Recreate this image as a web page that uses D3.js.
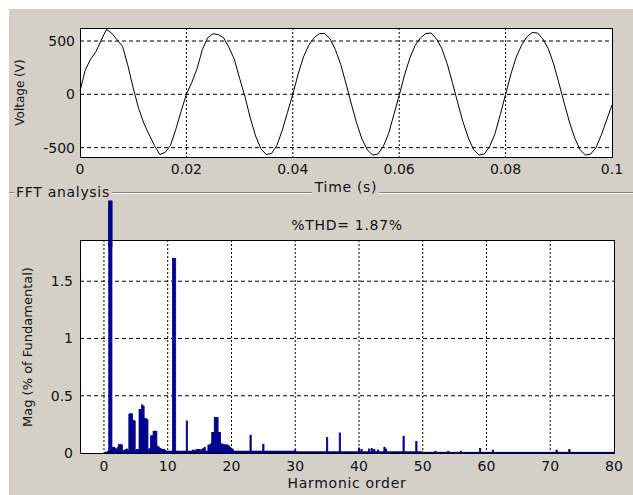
<!DOCTYPE html>
<html>
<head>
<meta charset="utf-8">
<script src="https://cdn.jsdelivr.net/npm/d3@7"></script>
<style>
  body { margin: 0; background: #fff; }
  text { font-family: "DejaVu Sans", sans-serif; fill: #111; }
  .lbl { letter-spacing: 0.7px; }
</style>
</head>
<body>
<div id="chart"></div>
<script>
// ---- top panel: voltage, one sample per ms from 0 to 0.1 s ----
const sampleStep = 0.001;
const voltage = [
  30, 230, 330, 400, 510, 610, 570, 510, 450, 270,
  60, -130, -270, -380, -480, -565, -545, -480, -330, -160,
  0, 110, 240, 420, 530, 568, 560, 530, 440, 330,
  150, -20, -220, -390, -510, -565, -555, -480, -340, -170,
  0, 190, 350, 460, 530, 570, 570, 520, 420, 280,
  100, -90, -270, -420, -520, -570, -560, -490, -370, -190,
  -10, 180, 340, 460, 530, 570, 575, 520, 430, 290,
  110, -80, -260, -410, -520, -570, -560, -490, -370, -190,
  0, 190, 350, 460, 540, 580, 575, 520, 430, 290,
  110, -80, -260, -410, -520, -570, -560, -500, -380, -240,
  -100
];
const timeTicks = [0, 0.02, 0.04, 0.06, 0.08, 0.1];
const voltTicks = [-500, 0, 500];

// ---- bottom panel: FFT, bins every 0.2 harmonic ----
const mainOrders = [1, 11];
const mainMags = [2.2, 1.70];
const binOrders = [
  0.6, 0.8, 1.2, 1.4, 1.6, 1.8, 2.0, 2.2, 2.4, 2.6, 2.8, 3.0, 3.2, 3.4, 3.6, 3.8,
  4.0, 4.2, 4.4, 4.6, 4.8, 5.0, 5.2, 5.4, 5.6, 5.8, 6.0, 6.2, 6.4, 6.6, 6.8,
  7.0, 7.2, 7.4, 7.6, 7.8, 8.0, 8.2, 8.4, 8.6, 8.8, 9.0, 9.2, 9.4, 9.6,
  13.0, 14.0, 14.2, 14.6, 14.8, 15.0, 15.4, 15.6, 15.8,
  16.4, 16.6, 16.8, 17.0, 17.2, 17.4, 17.6, 17.8, 18.0, 18.2, 18.4, 18.6, 18.8,
  19.0, 19.2, 19.4, 19.6, 19.8, 20.0, 20.2,
  23.0, 25.0, 30.0, 35.0, 37.0, 40.0, 40.4, 41.6, 42.0, 42.4, 43.0, 44.0, 44.2,
  47.0, 49.0, 52.0, 54.0, 56.0, 59.0, 61.0, 71.0, 73.0
];
const binMags = [
  0.015, 0.02, 0.04, 0.05, 0.05, 0.04, 0.03, 0.05, 0.075, 0.076, 0.07, 0.02, 0.02, 0.03, 0.035, 0.02,
  0.34, 0.344, 0.34, 0.285, 0.28, 0.02, 0.03, 0.03, 0.38, 0.38, 0.42, 0.41, 0.30, 0.30, 0.29,
  0.03, 0.04, 0.15, 0.15, 0.19, 0.19, 0.19, 0.06, 0.05, 0.04, 0.035, 0.03, 0.03, 0.025,
  0.28, 0.025, 0.025, 0.03, 0.03, 0.03, 0.03, 0.04, 0.05,
  0.07, 0.07, 0.08, 0.18, 0.18, 0.31, 0.31, 0.31, 0.18, 0.18, 0.08, 0.076, 0.076,
  0.07, 0.07, 0.07, 0.06, 0.05, 0.04, 0.03,
  0.155, 0.076, 0.025, 0.134, 0.175, 0.044, 0.03, 0.035, 0.04, 0.03, 0.025, 0.05, 0.035,
  0.146, 0.10, 0.015, 0.015, 0.015, 0.04, 0.025, 0.025, 0.03
];
// low noise floor, read as runs
const floorStart = [0, 1, 30, 50];
const floorEnd = [1, 30, 50, 80];
const floorMag = [0.01, 0.02, 0.015, 0.01];
const orderTicks = [0, 10, 20, 30, 40, 50, 60, 70, 80];
const magTicks = [0, 0.5, 1, 1.5];
const thd = "1.87";

const W = 633, H = 495;
const bg = "#d4d0c8";
const barColor = "#00008b";

const svg = d3.select("#chart").append("svg")
  .attr("width", W).attr("height", H);

svg.append("rect").attr("x", 9).attr("y", 9)
  .attr("width", W - 9).attr("height", H - 9).attr("fill", bg);

// ---------- top axes ----------
const boxT = { left: 80, right: 612, top: 28, bottom: 157 };
const xT = d3.scaleLinear().domain([0, 0.1]).range([boxT.left, boxT.right]);
const yT = d3.scaleLinear().domain([-588, 622]).range([boxT.bottom, boxT.top]);

const gT = svg.append("g");
gT.append("rect")
  .attr("x", boxT.left).attr("y", boxT.top)
  .attr("width", boxT.right - boxT.left).attr("height", boxT.bottom - boxT.top)
  .attr("fill", "#fff");

gT.selectAll(".vgrid").data(timeTicks.slice(1, -1)).enter().append("line")
  .attr("x1", d => xT(d)).attr("x2", d => xT(d))
  .attr("y1", boxT.top).attr("y2", boxT.bottom)
  .attr("stroke", "#000").attr("stroke-dasharray", "2,2");
gT.selectAll(".hgrid").data(voltTicks).enter().append("line")
  .attr("x1", boxT.left).attr("x2", boxT.right)
  .attr("y1", d => yT(d)).attr("y2", d => yT(d))
  .attr("stroke", "#000").attr("stroke-dasharray", "4,3");

const line = d3.line()
  .x((d, i) => xT(i * sampleStep))
  .y(d => yT(d));
gT.append("path").datum(voltage)
  .attr("fill", "none").attr("stroke", "#000").attr("stroke-width", 1)
  .attr("d", line);

gT.append("rect")
  .attr("x", boxT.left + 0.5).attr("y", boxT.top + 0.5)
  .attr("width", boxT.right - boxT.left).attr("height", boxT.bottom - boxT.top)
  .attr("fill", "none").attr("stroke", "#000");

gT.selectAll(".xlab").data(timeTicks).enter().append("text")
  .attr("x", d => xT(d)).attr("y", boxT.bottom + 17)
  .attr("text-anchor", "middle").style("font-size", "14px")
  .text(d => d3.format("~g")(d));
gT.selectAll(".ylab").data(voltTicks).enter().append("text")
  .attr("x", boxT.left - 5).attr("y", d => yT(d) + 5)
  .attr("text-anchor", "end").style("font-size", "14px")
  .text(d => d);
gT.append("text")
  .attr("transform", `translate(24,${(boxT.top + boxT.bottom) / 2}) rotate(-90)`)
  .attr("text-anchor", "middle").style("font-size", "12px")
  .text("Voltage (V)");

// ---------- group box line ----------
svg.append("line").attr("x1", 9).attr("x2", W).attr("y1", 192.5).attr("y2", 192.5)
  .attr("stroke", "#808080");
svg.append("line").attr("x1", 9).attr("x2", W).attr("y1", 193.5).attr("y2", 193.5)
  .attr("stroke", "#fff");

function boxedText(x, y, str, anchor, size) {
  const t = svg.append("text").attr("class", "lbl").attr("x", x).attr("y", y)
    .attr("text-anchor", anchor).style("font-size", size).text(str);
  const b = t.node().getBBox();
  svg.insert("rect", () => t.node())
    .attr("x", b.x - 2).attr("y", b.y).attr("width", b.width + 4).attr("height", b.height)
    .attr("fill", bg);
  return t;
}
boxedText(16, 197, "FFT analysis", "start", "14px");
boxedText((boxT.left + boxT.right) / 2, 192, "Time (s)", "middle", "14px");

// ---------- bottom axes ----------
const boxB = { left: 80, right: 614, top: 240, bottom: 453 };
const xB = d3.scaleLinear().domain([-3.76, 80]).range([boxB.left, boxB.right]);
const yB = d3.scaleLinear().domain([0, 1.86]).range([boxB.bottom, boxB.top]);

const gB = svg.append("g");
gB.append("rect")
  .attr("x", boxB.left).attr("y", boxB.top)
  .attr("width", boxB.right - boxB.left).attr("height", boxB.bottom - boxB.top)
  .attr("fill", "#fff");
gB.selectAll(".vgrid").data(orderTicks.slice(0, -1)).enter().append("line")
  .attr("x1", d => xB(d)).attr("x2", d => xB(d))
  .attr("y1", boxB.top).attr("y2", boxB.bottom)
  .attr("stroke", "#000").attr("stroke-dasharray", "2,2");
gB.selectAll(".hgrid").data(magTicks.slice(1)).enter().append("line")
  .attr("x1", boxB.left).attr("x2", boxB.right)
  .attr("y1", d => yB(d)).attr("y2", d => yB(d))
  .attr("stroke", "#000").attr("stroke-dasharray", "4,3");

// noise floor
gB.selectAll(".floor").data(floorStart).enter().append("rect")
  .attr("x", d => xB(d))
  .attr("width", (d, i) => xB(floorEnd[i]) - xB(d))
  .attr("y", (d, i) => yB(floorMag[i]))
  .attr("height", (d, i) => yB(0) - yB(floorMag[i]))
  .attr("fill", barColor);

// fine bins
const binW = xB(0.2) - xB(0);
gB.selectAll(".bin").data(binOrders).enter().append("rect")
  .attr("x", d => xB(d) - binW / 2)
  .attr("width", binW)
  .attr("y", (d, i) => yB(binMags[i]))
  .attr("height", (d, i) => yB(0) - yB(binMags[i]))
  .attr("fill", barColor).attr("stroke", barColor).attr("stroke-width", 0.8);

// fundamental and 11th
const mainW = xB(0.5) - xB(0);
gB.selectAll(".main").data(mainOrders).enter().append("rect")
  .attr("x", d => xB(d) - mainW / 2)
  .attr("width", mainW)
  .attr("y", (d, i) => yB(mainMags[i]))
  .attr("height", (d, i) => yB(0) - yB(mainMags[i]))
  .attr("fill", barColor).attr("stroke", barColor).attr("stroke-width", 0.8);

gB.append("rect")
  .attr("x", boxB.left + 0.5).attr("y", boxB.top + 0.5)
  .attr("width", boxB.right - boxB.left).attr("height", boxB.bottom - boxB.top)
  .attr("fill", "none").attr("stroke", "#000");
// fundamental bar drawn past the top border
gB.append("rect")
  .attr("x", xB(mainOrders[0]) - mainW / 2).attr("width", mainW)
  .attr("y", yB(mainMags[0])).attr("height", yB(1.8) - yB(mainMags[0]))
  .attr("fill", barColor).attr("stroke", barColor).attr("stroke-width", 0.8);

gB.selectAll(".xlab").data(orderTicks).enter().append("text")
  .attr("x", d => xB(d)).attr("y", boxB.bottom + 18)
  .attr("text-anchor", "middle").style("font-size", "14px")
  .text(d => d);
gB.selectAll(".ylab").data(magTicks).enter().append("text")
  .attr("x", boxB.left - 7).attr("y", d => yB(d) + 5)
  .attr("text-anchor", "end").style("font-size", "14px")
  .text(d => d);
gB.append("text").attr("class", "lbl")
  .attr("x", (boxB.left + boxB.right) / 2).attr("y", 488)
  .attr("text-anchor", "middle").style("font-size", "14px")
  .text("Harmonic order");
gB.append("text")
  .attr("transform", `translate(32,347) rotate(-90)`)
  .attr("text-anchor", "middle").style("font-size", "13px")
  .text("Mag (% of Fundamental)");
gB.append("text").attr("class", "lbl")
  .attr("x", (boxB.left + boxB.right) / 2).attr("y", 230)
  .attr("text-anchor", "middle").style("font-size", "14px")
  .text(`%THD= ${thd}%`);
</script>
</body>
</html>
